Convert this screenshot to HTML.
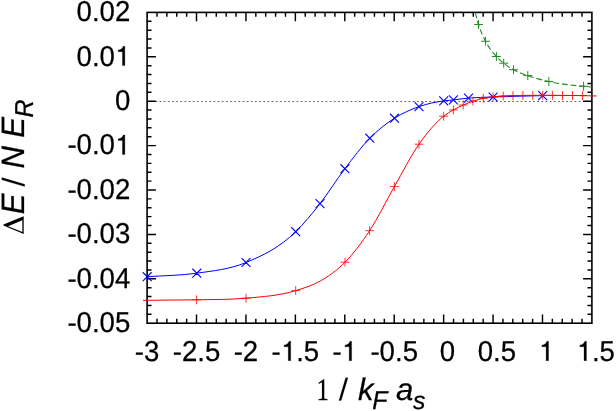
<!DOCTYPE html>
<html><head><meta charset="utf-8"><title>plot</title>
<style>
html,body{margin:0;padding:0;background:#fff;}
body{width:616px;height:411px;position:relative;overflow:hidden;font-family:"Liberation Sans",sans-serif;}

.b{stroke:#000;stroke-width:0.25px;}
.t{font-family:"Liberation Sans",sans-serif;fill:#000;text-rendering:geometricPrecision;}
</style></head><body>
<svg width="616" height="411" viewBox="0 0 616 411" style="position:absolute;left:0;top:0;will-change:transform;transform:translateZ(0)">
<rect width="616" height="411" fill="#fff"/>
<line x1="147.10" y1="101.50" x2="591.90" y2="101.50" stroke="#222" stroke-width="0.7" stroke-dasharray="1.8 2.35"/>
<path d="M156.98 323.20v-4.40M156.98 12.40v4.40M166.87 323.20v-4.40M166.87 12.40v4.40M176.75 323.20v-4.40M176.75 12.40v4.40M186.64 323.20v-4.40M186.64 12.40v4.40M196.52 323.20v-8.80M196.52 12.40v8.80M206.41 323.20v-4.40M206.41 12.40v4.40M216.29 323.20v-4.40M216.29 12.40v4.40M226.18 323.20v-4.40M226.18 12.40v4.40M236.06 323.20v-4.40M236.06 12.40v4.40M245.94 323.20v-8.80M245.94 12.40v8.80M255.83 323.20v-4.40M255.83 12.40v4.40M265.71 323.20v-4.40M265.71 12.40v4.40M275.60 323.20v-4.40M275.60 12.40v4.40M285.48 323.20v-4.40M285.48 12.40v4.40M295.37 323.20v-8.80M295.37 12.40v8.80M305.25 323.20v-4.40M305.25 12.40v4.40M315.14 323.20v-4.40M315.14 12.40v4.40M325.02 323.20v-4.40M325.02 12.40v4.40M334.90 323.20v-4.40M334.90 12.40v4.40M344.79 323.20v-8.80M344.79 12.40v8.80M354.67 323.20v-4.40M354.67 12.40v4.40M364.56 323.20v-4.40M364.56 12.40v4.40M374.44 323.20v-4.40M374.44 12.40v4.40M384.33 323.20v-4.40M384.33 12.40v4.40M394.21 323.20v-8.80M394.21 12.40v8.80M404.10 323.20v-4.40M404.10 12.40v4.40M413.98 323.20v-4.40M413.98 12.40v4.40M423.86 323.20v-4.40M423.86 12.40v4.40M433.75 323.20v-4.40M433.75 12.40v4.40M443.63 323.20v-8.80M443.63 12.40v8.80M453.52 323.20v-4.40M453.52 12.40v4.40M463.40 323.20v-4.40M463.40 12.40v4.40M473.29 323.20v-4.40M473.29 12.40v4.40M483.17 323.20v-4.40M483.17 12.40v4.40M493.06 323.20v-8.80M493.06 12.40v8.80M502.94 323.20v-4.40M502.94 12.40v4.40M512.82 323.20v-4.40M512.82 12.40v4.40M522.71 323.20v-4.40M522.71 12.40v4.40M532.59 323.20v-4.40M532.59 12.40v4.40M542.48 323.20v-8.80M542.48 12.40v8.80M552.36 323.20v-4.40M552.36 12.40v4.40M562.25 323.20v-4.40M562.25 12.40v4.40M572.13 323.20v-4.40M572.13 12.40v4.40M582.02 323.20v-4.40M582.02 12.40v4.40M147.10 21.28h4.40M591.90 21.28h-4.40M147.10 30.16h4.40M591.90 30.16h-4.40M147.10 39.04h4.40M591.90 39.04h-4.40M147.10 47.92h4.40M591.90 47.92h-4.40M147.10 56.80h8.80M591.90 56.80h-8.80M147.10 65.68h4.40M591.90 65.68h-4.40M147.10 74.56h4.40M591.90 74.56h-4.40M147.10 83.44h4.40M591.90 83.44h-4.40M147.10 92.32h4.40M591.90 92.32h-4.40M147.10 101.20h8.80M591.90 101.20h-8.80M147.10 110.08h4.40M591.90 110.08h-4.40M147.10 118.96h4.40M591.90 118.96h-4.40M147.10 127.84h4.40M591.90 127.84h-4.40M147.10 136.72h4.40M591.90 136.72h-4.40M147.10 145.60h8.80M591.90 145.60h-8.80M147.10 154.48h4.40M591.90 154.48h-4.40M147.10 163.36h4.40M591.90 163.36h-4.40M147.10 172.24h4.40M591.90 172.24h-4.40M147.10 181.12h4.40M591.90 181.12h-4.40M147.10 190.00h8.80M591.90 190.00h-8.80M147.10 198.88h4.40M591.90 198.88h-4.40M147.10 207.76h4.40M591.90 207.76h-4.40M147.10 216.64h4.40M591.90 216.64h-4.40M147.10 225.52h4.40M591.90 225.52h-4.40M147.10 234.40h8.80M591.90 234.40h-8.80M147.10 243.28h4.40M591.90 243.28h-4.40M147.10 252.16h4.40M591.90 252.16h-4.40M147.10 261.04h4.40M591.90 261.04h-4.40M147.10 269.92h4.40M591.90 269.92h-4.40M147.10 278.80h8.80M591.90 278.80h-8.80M147.10 287.68h4.40M591.90 287.68h-4.40M147.10 296.56h4.40M591.90 296.56h-4.40M147.10 305.44h4.40M591.90 305.44h-4.40M147.10 314.32h4.40M591.90 314.32h-4.40" stroke="#000" stroke-width="1.45" fill="none"/>
<rect x="147.10" y="12.40" width="444.80" height="310.80" fill="none" stroke="#000" stroke-width="1.6"/>
<path d="M147.20 276.70 C163.73 275.53 180.27 275.59 196.80 273.20 C213.20 270.83 229.60 269.35 246.00 262.50 C262.57 255.58 279.13 247.94 295.70 231.70 C303.80 223.76 311.90 213.95 320.00 203.60 C328.30 193.00 336.60 179.60 344.90 168.70 C353.20 157.80 361.50 146.64 369.80 138.20 C378.03 129.83 386.27 123.48 394.50 118.20 C402.67 112.97 410.83 109.48 419.00 106.60 C427.23 103.70 435.47 102.05 443.70 100.90 C446.93 100.45 450.17 100.25 453.40 99.90 C458.43 99.35 463.47 98.56 468.50 98.10 C476.70 97.35 484.90 97.32 493.10 97.00 C509.63 96.35 526.17 96.07 542.70 95.60" fill="none" stroke="#0000ff" stroke-width="1"/>
<path d="M142.75 272.25l8.90 8.90M142.75 281.15l8.90 -8.90M192.35 268.75l8.90 8.90M192.35 277.65l8.90 -8.90M241.55 258.05l8.90 8.90M241.55 266.95l8.90 -8.90M291.25 227.25l8.90 8.90M291.25 236.15l8.90 -8.90M315.55 199.15l8.90 8.90M315.55 208.05l8.90 -8.90M340.45 164.25l8.90 8.90M340.45 173.15l8.90 -8.90M365.35 133.75l8.90 8.90M365.35 142.65l8.90 -8.90M390.05 113.75l8.90 8.90M390.05 122.65l8.90 -8.90M414.55 102.15l8.90 8.90M414.55 111.05l8.90 -8.90M439.25 96.45l8.90 8.90M439.25 105.35l8.90 -8.90M448.95 95.45l8.90 8.90M448.95 104.35l8.90 -8.90M464.05 93.65l8.90 8.90M464.05 102.55l8.90 -8.90M488.65 92.55l8.90 8.90M488.65 101.45l8.90 -8.90M538.25 91.15l8.90 8.90M538.25 100.05l8.90 -8.90" fill="none" stroke="#0000ff" stroke-width="1.1"/>
<path d="M143.00 300.40 C144.37 300.37 145.73 300.33 147.10 300.30 C163.60 299.92 180.10 300.15 196.60 299.80 C213.07 299.45 229.53 299.72 246.00 298.20 C262.57 296.67 279.13 295.76 295.70 290.60 C303.90 288.04 312.10 285.72 320.30 281.00 C328.53 276.26 336.77 270.61 345.00 262.20 C353.20 253.83 361.40 243.23 369.60 230.70 C377.87 218.07 386.13 201.07 394.40 186.60 C402.60 172.24 410.80 155.92 419.00 144.20 C427.23 132.43 435.47 122.67 443.70 116.20 C446.93 113.66 450.17 111.76 453.40 109.90 C456.67 108.02 459.93 106.45 463.20 105.00 C466.47 103.55 469.73 102.28 473.00 101.20 C476.43 100.06 479.87 99.12 483.30 98.40 C486.57 97.71 489.83 97.30 493.10 96.90 C496.47 96.49 499.83 96.22 503.20 96.00 C506.47 95.79 509.73 95.70 513.00 95.60 C516.30 95.50 519.60 95.45 522.90 95.40 C529.50 95.30 536.10 95.30 542.70 95.30 C549.30 95.30 555.90 95.35 562.50 95.40 C569.20 95.45 575.90 95.46 582.60 95.60 C587.23 95.70 591.87 95.87 596.50 96.00" fill="none" stroke="#ff0000" stroke-width="1"/>
<path d="M192.15 299.80h8.90M196.60 295.35v8.90M241.55 298.20h8.90M246.00 293.75v8.90M291.25 290.60h8.90M295.70 286.15v8.90M340.55 262.20h8.90M345.00 257.75v8.90M365.15 230.70h8.90M369.60 226.25v8.90M389.95 186.60h8.90M394.40 182.15v8.90M414.55 144.20h8.90M419.00 139.75v8.90M439.25 116.20h8.90M443.70 111.75v8.90M448.95 109.90h8.90M453.40 105.45v8.90M458.75 105.00h8.90M463.20 100.55v8.90M468.55 101.20h8.90M473.00 96.75v8.90M478.85 98.30h8.90M483.30 93.85v8.90M488.65 96.90h8.90M493.10 92.45v8.90M498.75 96.00h8.90M503.20 91.55v8.90M508.55 95.60h8.90M513.00 91.15v8.90M518.45 95.50h8.90M522.90 91.05v8.90M528.35 95.50h8.90M532.80 91.05v8.90M538.25 95.40h8.90M542.70 90.95v8.90M547.95 95.40h8.90M552.40 90.95v8.90M558.05 95.50h8.90M562.50 91.05v8.90M568.05 95.50h8.90M572.50 91.05v8.90M578.15 95.60h8.90M582.60 91.15v8.90" fill="none" stroke="#ff0000" stroke-width="0.8"/>
<path d="M475.20 12.40 C476.30 16.43 477.40 20.92 478.50 24.50 C480.85 32.15 483.20 36.56 485.55 41.25 C489.17 48.46 492.78 52.47 496.40 56.50 C498.83 59.21 501.27 61.23 503.70 63.20 C506.97 65.84 510.23 67.87 513.50 69.70 C518.27 72.38 523.03 73.89 527.80 75.60 C534.82 78.12 541.83 79.91 548.85 81.50 C560.43 84.13 572.02 85.17 583.60 86.30 C586.23 86.56 588.87 86.77 591.50 87.00" fill="none" stroke="#228b22" stroke-width="1.1" stroke-dasharray="5.8 2.9"/>
<path d="M474.05 24.50h8.90M478.50 20.05v8.90M481.10 41.25h8.90M485.55 36.80v8.90M491.95 56.50h8.90M496.40 52.05v8.90M499.25 63.20h8.90M503.70 58.75v8.90M509.05 69.70h8.90M513.50 65.25v8.90M523.35 75.60h8.90M527.80 71.15v8.90M544.40 81.50h8.90M548.85 77.05v8.90M579.15 86.30h8.90M583.60 81.85v8.90" fill="none" stroke="#228b22" stroke-width="1"/>
<text transform="translate(76.59 21.20) scale(1 1.045)" class="t b" font-size="27.6">0</text><text transform="translate(91.94 21.20) scale(1 1.000)" class="t b" font-size="27.6">.</text><text transform="translate(99.61 21.20) scale(1 1.045)" class="t b" font-size="27.6">0</text><text transform="translate(114.95 21.20) scale(1 1.045)" class="t b" font-size="27.6">2</text>
<text transform="translate(76.59 65.60) scale(1 1.045)" class="t b" font-size="27.6">0</text><text transform="translate(91.94 65.60) scale(1 1.000)" class="t b" font-size="27.6">.</text><text transform="translate(99.61 65.60) scale(1 1.045)" class="t b" font-size="27.6">0</text><path transform="translate(114.95 65.60) scale(0.02760 -0.02760)" d="M359 0L271 0L271 503L118 503L118 563C205 573 264 610 300 703L359 703Z" fill="#000" stroke="#000" stroke-width="9.1"/>
<text transform="translate(114.95 110.00) scale(1 1.045)" class="t b" font-size="27.6">0</text>
<text transform="translate(67.40 154.40) scale(1 1.000)" class="t b" font-size="27.6">-</text><text transform="translate(76.59 154.40) scale(1 1.045)" class="t b" font-size="27.6">0</text><text transform="translate(91.94 154.40) scale(1 1.000)" class="t b" font-size="27.6">.</text><text transform="translate(99.61 154.40) scale(1 1.045)" class="t b" font-size="27.6">0</text><path transform="translate(114.95 154.40) scale(0.02760 -0.02760)" d="M359 0L271 0L271 503L118 503L118 563C205 573 264 610 300 703L359 703Z" fill="#000" stroke="#000" stroke-width="9.1"/>
<text transform="translate(67.40 198.80) scale(1 1.000)" class="t b" font-size="27.6">-</text><text transform="translate(76.59 198.80) scale(1 1.045)" class="t b" font-size="27.6">0</text><text transform="translate(91.94 198.80) scale(1 1.000)" class="t b" font-size="27.6">.</text><text transform="translate(99.61 198.80) scale(1 1.045)" class="t b" font-size="27.6">0</text><text transform="translate(114.95 198.80) scale(1 1.045)" class="t b" font-size="27.6">2</text>
<text transform="translate(67.40 243.20) scale(1 1.000)" class="t b" font-size="27.6">-</text><text transform="translate(76.59 243.20) scale(1 1.045)" class="t b" font-size="27.6">0</text><text transform="translate(91.94 243.20) scale(1 1.000)" class="t b" font-size="27.6">.</text><text transform="translate(99.61 243.20) scale(1 1.045)" class="t b" font-size="27.6">0</text><text transform="translate(114.95 243.20) scale(1 1.045)" class="t b" font-size="27.6">3</text>
<text transform="translate(67.40 287.60) scale(1 1.000)" class="t b" font-size="27.6">-</text><text transform="translate(76.59 287.60) scale(1 1.045)" class="t b" font-size="27.6">0</text><text transform="translate(91.94 287.60) scale(1 1.000)" class="t b" font-size="27.6">.</text><text transform="translate(99.61 287.60) scale(1 1.045)" class="t b" font-size="27.6">0</text><text transform="translate(114.95 287.60) scale(1 1.045)" class="t b" font-size="27.6">4</text>
<text transform="translate(67.40 332.00) scale(1 1.000)" class="t b" font-size="27.6">-</text><text transform="translate(76.59 332.00) scale(1 1.045)" class="t b" font-size="27.6">0</text><text transform="translate(91.94 332.00) scale(1 1.000)" class="t b" font-size="27.6">.</text><text transform="translate(99.61 332.00) scale(1 1.045)" class="t b" font-size="27.6">0</text><text transform="translate(114.95 332.00) scale(1 1.045)" class="t b" font-size="27.6">5</text>
<text transform="translate(134.83 360.70) scale(1 1.000)" class="t b" font-size="27.6">-</text><text transform="translate(144.02 360.70) scale(1 1.045)" class="t b" font-size="27.6">3</text>
<text transform="translate(172.74 360.70) scale(1 1.000)" class="t b" font-size="27.6">-</text><text transform="translate(181.94 360.70) scale(1 1.045)" class="t b" font-size="27.6">2</text><text transform="translate(197.28 360.70) scale(1 1.000)" class="t b" font-size="27.6">.</text><text transform="translate(204.95 360.70) scale(1 1.045)" class="t b" font-size="27.6">5</text>
<text transform="translate(233.68 360.70) scale(1 1.000)" class="t b" font-size="27.6">-</text><text transform="translate(242.87 360.70) scale(1 1.045)" class="t b" font-size="27.6">2</text>
<text transform="translate(271.59 360.70) scale(1 1.000)" class="t b" font-size="27.6">-</text><path transform="translate(280.78 360.70) scale(0.02760 -0.02760)" d="M359 0L271 0L271 503L118 503L118 563C205 573 264 610 300 703L359 703Z" fill="#000" stroke="#000" stroke-width="9.1"/><text transform="translate(296.13 360.70) scale(1 1.000)" class="t b" font-size="27.6">.</text><text transform="translate(303.80 360.70) scale(1 1.045)" class="t b" font-size="27.6">5</text>
<text transform="translate(332.52 360.70) scale(1 1.000)" class="t b" font-size="27.6">-</text><path transform="translate(341.71 360.70) scale(0.02760 -0.02760)" d="M359 0L271 0L271 503L118 503L118 563C205 573 264 610 300 703L359 703Z" fill="#000" stroke="#000" stroke-width="9.1"/>
<text transform="translate(370.43 360.70) scale(1 1.000)" class="t b" font-size="27.6">-</text><text transform="translate(379.62 360.70) scale(1 1.045)" class="t b" font-size="27.6">0</text><text transform="translate(394.97 360.70) scale(1 1.000)" class="t b" font-size="27.6">.</text><text transform="translate(402.64 360.70) scale(1 1.045)" class="t b" font-size="27.6">5</text>
<text transform="translate(439.80 360.70) scale(1 1.045)" class="t b" font-size="27.6">0</text>
<text transform="translate(477.71 360.70) scale(1 1.045)" class="t b" font-size="27.6">0</text><text transform="translate(493.06 360.70) scale(1 1.000)" class="t b" font-size="27.6">.</text><text transform="translate(500.73 360.70) scale(1 1.045)" class="t b" font-size="27.6">5</text>
<path transform="translate(538.64 360.70) scale(0.02760 -0.02760)" d="M359 0L271 0L271 503L118 503L118 563C205 573 264 610 300 703L359 703Z" fill="#000" stroke="#000" stroke-width="9.1"/>
<path transform="translate(576.55 360.70) scale(0.02760 -0.02760)" d="M359 0L271 0L271 503L118 503L118 563C205 573 264 610 300 703L359 703Z" fill="#000" stroke="#000" stroke-width="9.1"/><text transform="translate(591.90 360.70) scale(1 1.000)" class="t b" font-size="27.6">.</text><text transform="translate(599.57 360.70) scale(1 1.045)" class="t b" font-size="27.6">5</text>
<text transform="translate(357.90 399.60) scale(1.000 1.000)" class="t b" font-size="31.1" font-style="italic">k</text>
<text transform="translate(372.20 409.00) scale(1.000 1.040)" class="t b" font-size="24.9" font-style="italic">F</text>
<text transform="translate(395.90 399.60) scale(1.000 1.000)" class="t b" font-size="31.1" font-style="italic">a</text>
<text transform="translate(413.00 409.00) scale(1.000 1.000)" class="t b" font-size="24.9" font-style="italic">s</text>
<path d="M338.9 400.6h2.3l6.75 -22.9h-2.3z" fill="#000" stroke="#000" stroke-width="0.2"/>
<text transform="translate(322.60 399.60) scale(0.800 1.000)" class="t b" font-size="31.1" style="font-family:'Liberation Serif',serif" text-anchor="middle">1</text>
<g transform="translate(23.7 234.5) rotate(-90)">
<path transform="translate(0.45 0) scale(0.0292 -0.0295)" fill-rule="evenodd" fill="#000" d="M5 0L290 688L324 688L608 0ZM68.6 45L269.2 529.6L469.4 45Z"/>
<text transform="translate(20.30 0.00) scale(1.000 1.040)" class="t b" font-size="31.1" font-style="italic">E</text>
<text transform="translate(66.00 0.00) scale(1.000 1.040)" class="t b" font-size="31.1" font-style="italic">N</text>
<text transform="translate(96.75 0.00) scale(1.000 1.040)" class="t b" font-size="31.1" font-style="italic">E</text>
<text transform="translate(116.90 9.40) scale(1.000 1.040)" class="t b" font-size="24.9" font-style="italic">R</text>
<path d="M47.9 1h2.3l6.75 -22.9h-2.3z" fill="#000" stroke="#000" stroke-width="0.2"/></g>
</svg>
</body></html>
